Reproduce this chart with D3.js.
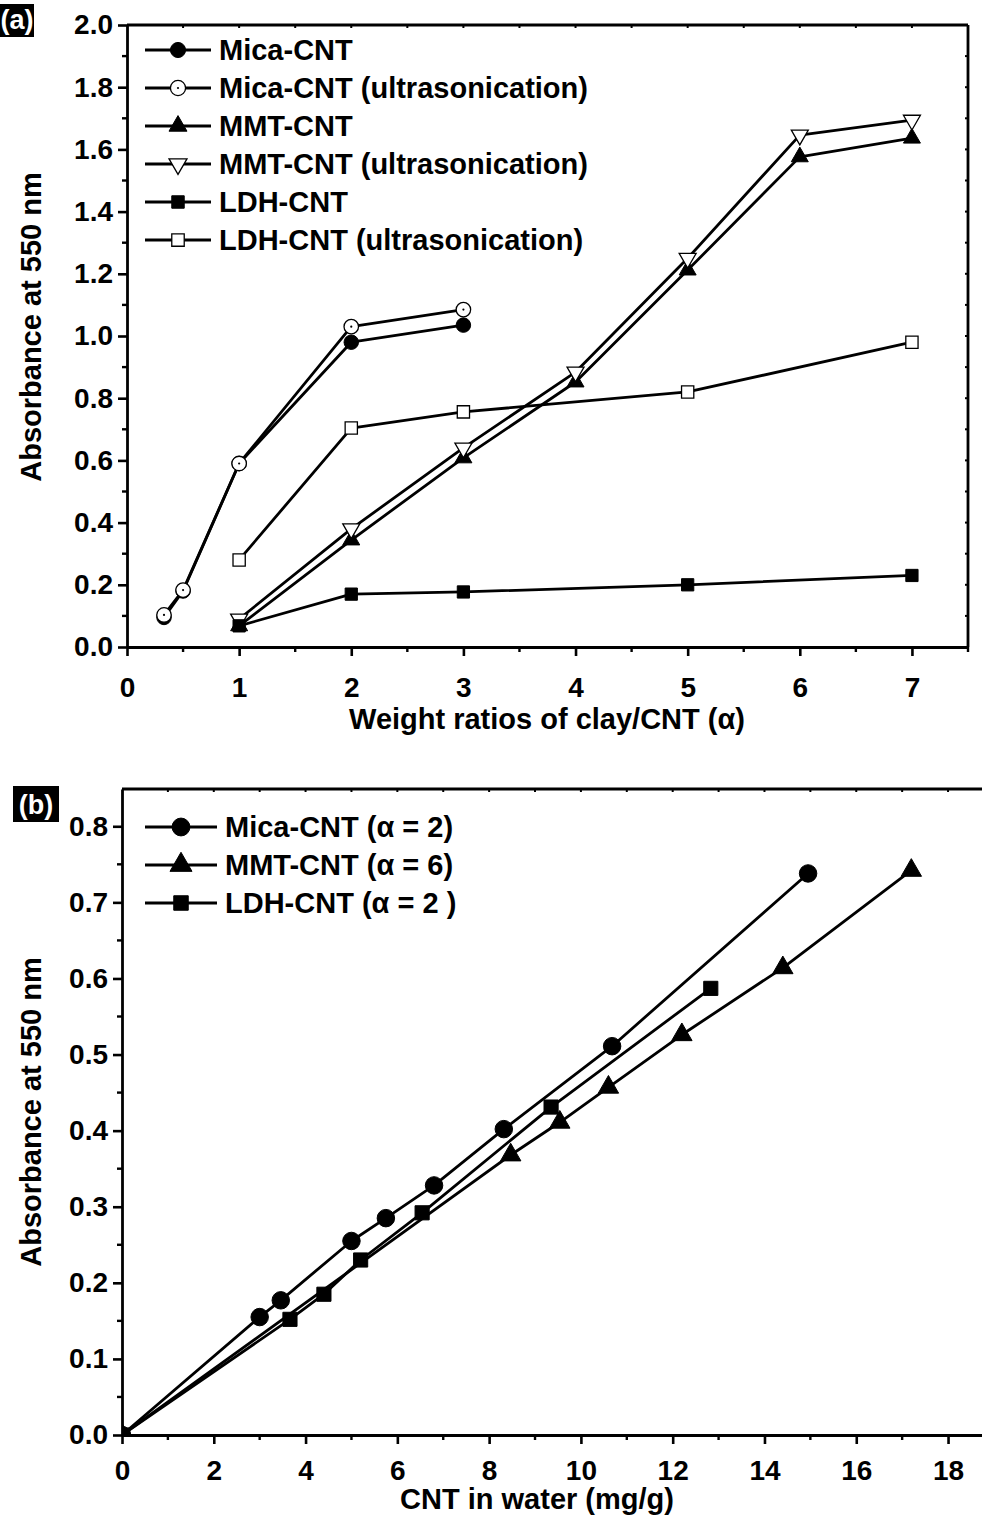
<!DOCTYPE html>
<html lang="en">
<head>
    <meta charset="UTF-8">
    <title>Absorbance of clay-CNT dispersions</title>
    <script src="https://d3js.org/d3.v7.min.js"></script>
    <style>
        body { margin: 0; background: #fff; }
        svg text { font-family: "Liberation Sans", Arial, sans-serif; font-weight: bold; fill: #000; }
    </style>
</head>
<body>
    <svg id="chart" width="982" height="1526"></svg>
    <script>
        // ---- panel (a) data ----
        const micaX = [0.33, 0.5, 1, 2, 3];
        const micaY = [0.095, 0.18, 0.59, 0.98, 1.035];
        const micaUsY = [0.103, 0.183, 0.59, 1.03, 1.085];
        const mmtX = [1, 2, 3, 4, 5, 6, 7];
        const mmtY = [0.068, 0.344, 0.608, 0.852, 1.212, 1.576, 1.636];
        const mmtUsY = [0.09, 0.38, 0.64, 0.884, 1.25, 1.646, 1.694];
        const ldhX = [1, 2, 3, 5, 7];
        const ldhY = [0.068, 0.17, 0.177, 0.2, 0.23];
        const ldhUsY = [0.28, 0.704, 0.756, 0.82, 0.98];
        const legendA = ["Mica-CNT", "Mica-CNT (ultrasonication)", "MMT-CNT",
                         "MMT-CNT (ultrasonication)", "LDH-CNT", "LDH-CNT (ultrasonication)"];
        const xTicksA = [0, 1, 2, 3, 4, 5, 6, 7];
        const yTicksA = [0, 0.2, 0.4, 0.6, 0.8, 1.0, 1.2, 1.4, 1.6, 1.8, 2.0];

        // ---- panel (b) data ----
        const micaBX = [0, 3.0, 3.46, 5.0, 5.75, 6.8, 8.32, 10.68, 14.95];
        const micaBY = [0, 0.155, 0.177, 0.255, 0.285, 0.328, 0.402, 0.511, 0.738];
        const mmtBX = [0, 8.47, 9.54, 10.6, 12.2, 14.4, 17.2];
        const mmtBY = [0, 0.368, 0.411, 0.457, 0.526, 0.614, 0.742];
        const ldhBX = [0, 3.66, 4.4, 5.2, 6.54, 9.35, 12.83];
        const ldhBY = [0, 0.152, 0.185, 0.23, 0.292, 0.431, 0.587];
        const legendB = ["Mica-CNT (\u03b1 = 2)", "MMT-CNT (\u03b1 = 6)", "LDH-CNT (\u03b1 = 2 )"];
        const xTicksB = [0, 2, 4, 6, 8, 10, 12, 14, 16, 18];
        const yTicksB = [0, 0.1, 0.2, 0.3, 0.4, 0.5, 0.6, 0.7, 0.8];

        const svg = d3.select("#chart");
        const zip = (xs, ys) => xs.map((x, i) => ({x: x, y: ys[i]}));

        // marker drawing: kind = circle | dotcircle | tri | tridown | square ; filled or not
        function marker(g, kind, filled, cx, cy, s) {
            let type = d3.symbolCircle, area = s.circle, rot = 0;
            if (kind === "tri" || kind === "tridown") { type = d3.symbolTriangle; area = s.tri; }
            if (kind === "tridown") rot = 180;
            if (kind === "square") { type = d3.symbolSquare; area = s.square; }
            g.append("path")
                .attr("d", d3.symbol().type(type).size(area)())
                .attr("transform", `translate(${cx},${cy}) rotate(${rot})`)
                .attr("fill", filled ? "#000" : "#fff")
                .attr("stroke", "#000")
                .attr("stroke-width", filled ? 1 : 1.3);
            if (kind === "dotcircle") {
                g.append("circle").attr("cx", cx).attr("cy", cy).attr("r", 1.1).attr("fill", "#000");
            }
        }

        function panel(cfg) {
            const x = d3.scaleLinear().domain(cfg.xDomain).range([cfg.left, cfg.right]);
            const y = d3.scaleLinear().domain(cfg.yDomain).range([cfg.bottom, cfg.top]);
            const g = svg.append("g");

            const clipId = "clip" + cfg.name;
            svg.append("clipPath").attr("id", clipId).append("rect")
                .attr("x", cfg.left).attr("y", cfg.top)
                .attr("width", cfg.right - cfg.left).attr("height", cfg.bottom - cfg.top);

            // series
            const plot = g.append("g").attr("clip-path", `url(#${clipId})`);
            const line = d3.line().x(d => x(d.x)).y(d => y(d.y));
            cfg.series.forEach(s => {
                plot.append("path").datum(s.data)
                    .attr("d", line).attr("fill", "none")
                    .attr("stroke", "#000").attr("stroke-width", 2.8)
                    .attr("stroke-linejoin", "round");
            });
            cfg.series.forEach(s => {
                s.data.forEach(d => marker(plot, s.kind, s.filled, x(d.x), y(d.y), cfg.sizes));
            });

            // bottom axis
            const xAxis = d3.axisBottom(x).tickValues(cfg.xTicks)
                .tickFormat(d3.format("d")).tickSizeInner(9).tickSizeOuter(0).tickPadding(cfg.xPad);
            const gx = g.append("g").attr("transform", `translate(0,${cfg.bottom})`).call(xAxis);
            gx.select(".domain").attr("stroke-width", 2.8);
            gx.selectAll(".tick line").attr("stroke-width", 2.6);
            gx.selectAll("text").attr("font-size", 28).style("font-weight", "bold");
            // minor x ticks
            g.append("g").selectAll("line").data(cfg.xMinor).join("line")
                .attr("x1", d => x(d)).attr("x2", d => x(d))
                .attr("y1", cfg.bottom).attr("y2", cfg.bottom + 5)
                .attr("stroke", "#000").attr("stroke-width", 2.4);

            // left axis
            const yAxis = d3.axisLeft(y).tickValues(cfg.yTicks)
                .tickFormat(d3.format(".1f")).tickSizeInner(9).tickSizeOuter(0).tickPadding(5);
            const gy = g.append("g").attr("transform", `translate(${cfg.left},0)`).call(yAxis);
            gy.select(".domain").attr("stroke-width", 2.8);
            gy.selectAll(".tick line").attr("stroke-width", 2.6);
            gy.selectAll("text").attr("font-size", 28).style("font-weight", "bold");
            g.append("g").selectAll("line").data(cfg.yMinor).join("line")
                .attr("x1", cfg.left - 5).attr("x2", cfg.left)
                .attr("y1", d => y(d)).attr("y2", d => y(d))
                .attr("stroke", "#000").attr("stroke-width", 2.4);

            // top frame line with small inward ticks
            g.append("line").attr("x1", cfg.left).attr("x2", cfg.right)
                .attr("y1", cfg.top).attr("y2", cfg.top)
                .attr("stroke", "#000").attr("stroke-width", 2.8);
            g.append("g").selectAll("line").data(cfg.topTicks).join("line")
                .attr("x1", d => x(d)).attr("x2", d => x(d))
                .attr("y1", cfg.top).attr("y2", cfg.top + 3)
                .attr("stroke", "#000").attr("stroke-width", 2);

            // right frame (panel a only)
            if (cfg.rightFrame) {
                g.append("line").attr("x1", cfg.right).attr("x2", cfg.right)
                    .attr("y1", cfg.top).attr("y2", cfg.bottom)
                    .attr("stroke", "#000").attr("stroke-width", 2.8);
                g.append("g").selectAll("line").data(cfg.rightTicks).join("line")
                    .attr("x1", cfg.right - 3).attr("x2", cfg.right)
                    .attr("y1", d => y(d)).attr("y2", d => y(d))
                    .attr("stroke", "#000").attr("stroke-width", 2);
            }

            // axis titles
            g.append("text").attr("x", cfg.xTitlePos[0]).attr("y", cfg.xTitlePos[1])
                .attr("text-anchor", "middle").attr("font-size", 29).text(cfg.xTitle);
            g.append("text")
                .attr("transform", `translate(${cfg.yTitlePos[0]},${cfg.yTitlePos[1]}) rotate(-90)`)
                .attr("text-anchor", "middle").attr("font-size", 29).text("Absorbance at 550 nm");

            // legend
            cfg.series.forEach((s, i) => {
                const ly = cfg.legend.y + i * cfg.legend.step;
                g.append("line").attr("x1", cfg.legend.x).attr("x2", cfg.legend.x + cfg.legend.len)
                    .attr("y1", ly).attr("y2", ly).attr("stroke", "#000").attr("stroke-width", 2.8);
                marker(g, s.kind, s.filled, cfg.legend.x + cfg.legend.len / 2, ly, cfg.legendSizes);
                g.append("text").attr("x", cfg.legend.x + cfg.legend.len + 8).attr("y", ly + 10)
                    .attr("font-size", 29).text(cfg.legendLabels[i]);
            });

            // panel tag
            g.append("rect").attr("x", cfg.tag.x).attr("y", cfg.tag.y)
                .attr("width", cfg.tag.w).attr("height", cfg.tag.h).attr("fill", "#000");
            g.append("text").attr("x", cfg.tag.x + cfg.tag.w / 2).attr("y", cfg.tag.y + cfg.tag.h - 8)
                .attr("text-anchor", "middle").attr("font-size", 27).style("fill", "#fff").text(cfg.tag.label);
        }

        panel({
            name: "a",
            left: 127, right: 968, top: 25, bottom: 647,
            xDomain: [0, 7.5], yDomain: [0, 2],
            xTicks: xTicksA, yTicks: yTicksA, xPad: 21,
            xMinor: d3.range(0.5, 7.6, 1), yMinor: d3.range(0.1, 2, 0.2),
            topTicks: d3.range(0.5, 7.5, 0.5), rightTicks: d3.range(0.1, 2, 0.1),
            rightFrame: true,
            xTitle: "Weight ratios of clay/CNT (\u03b1)", xTitlePos: [547, 729],
            yTitlePos: [41, 327],
            series: [
                {kind: "circle", filled: true, data: zip(micaX, micaY)},
                {kind: "dotcircle", filled: false, data: zip(micaX, micaUsY)},
                {kind: "tri", filled: true, data: zip(mmtX, mmtY)},
                {kind: "tridown", filled: false, data: zip(mmtX, mmtUsY)},
                {kind: "square", filled: true, data: zip(ldhX, ldhY)},
                {kind: "square", filled: false, data: zip(ldhX, ldhUsY)}
            ],
            sizes: {circle: 165, tri: 125, square: 150},
            legendSizes: {circle: 180, tri: 140, square: 155},
            legendLabels: legendA,
            legend: {x: 145, y: 50, step: 38, len: 66},
            tag: {x: 0, y: 4, w: 34, h: 33, label: "(a)"}
        });

        panel({
            name: "b",
            left: 122, right: 982, top: 789, bottom: 1435,
            xDomain: [0, 18.74], yDomain: [0, 0.849],
            xTicks: xTicksB, yTicks: yTicksB, xPad: 16,
            xMinor: d3.range(1, 19, 2), yMinor: d3.range(0.05, 0.85, 0.1),
            topTicks: d3.range(1, 19, 1), rightTicks: [],
            rightFrame: false,
            xTitle: "CNT in water (mg/g)", xTitlePos: [537, 1509],
            yTitlePos: [41, 1112],
            series: [
                {kind: "circle", filled: true, data: zip(micaBX, micaBY)},
                {kind: "tri", filled: true, data: zip(mmtBX, mmtBY)},
                {kind: "square", filled: true, data: zip(ldhBX, ldhBY)}
            ],
            sizes: {circle: 240, tri: 180, square: 200},
            legendSizes: {circle: 250, tri: 210, square: 210},
            legendLabels: legendB,
            legend: {x: 145, y: 827, step: 38, len: 72},
            tag: {x: 13, y: 786, w: 46, h: 36, label: "(b)"}
        });
    </script>
</body>
</html>
